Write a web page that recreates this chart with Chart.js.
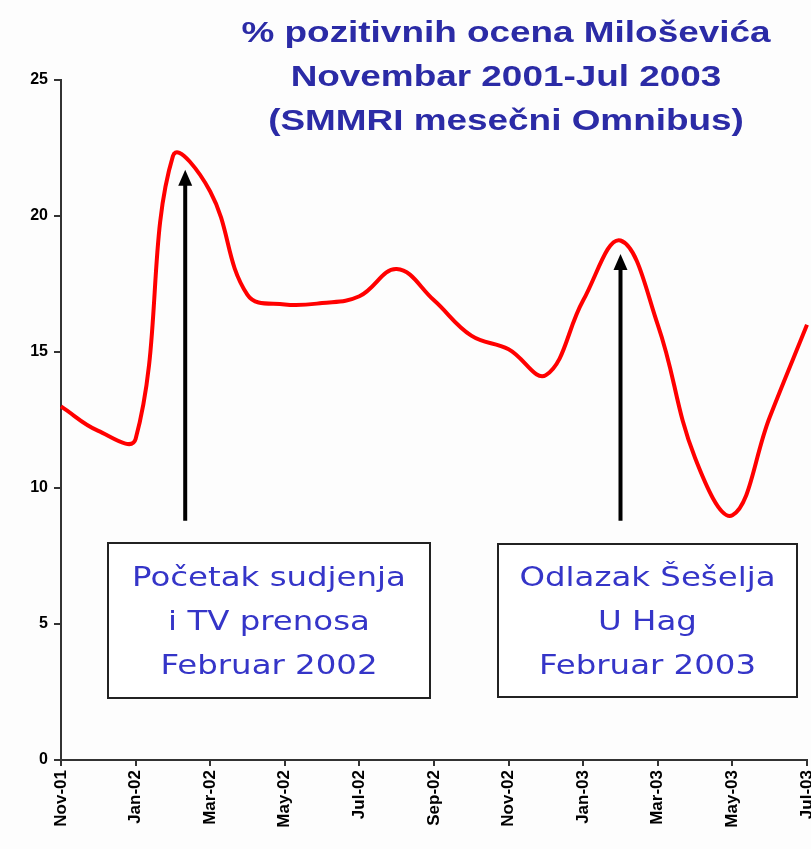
<!DOCTYPE html>
<html lang="sr">
<head>
    <meta charset="UTF-8">
    <title>% pozitivnih ocena Miloševića</title>
    <script src="https://cdn.jsdelivr.net/npm/chart.js"></script>
    <style>
        html, body { margin: 0; padding: 0; background: #fdfdfd; }
        #wrap { width: 811px; height: 849px; }
    </style>
</head>
<body>
    <div id="wrap"><canvas id="ocene"></canvas></div>

    <script>
        // mesečni podaci, Nov-01 .. Jul-03
        var meseci = ['Nov-01', 'Dec-01', 'Jan-02', 'Feb-02', 'Mar-02', 'Apr-02', 'May-02',
                      'Jun-02', 'Jul-02', 'Aug-02', 'Sep-02', 'Oct-02', 'Nov-02', 'Dec-02',
                      'Jan-03', 'Feb-03', 'Mar-03', 'Apr-03', 'May-03', 'Jun-03', 'Jul-03'];
        var pozitivne = [13.0, 12.1, 11.8, 22.2, 20.9, 17.1, 16.75,
                         16.8, 17.05, 18.05, 16.9, 15.6, 15.1, 14.15,
                         16.9, 19.1, 16.0, 11.1, 9.0, 12.6, 16.0];
        var yTicks = [0, 5, 10, 15, 20, 25];

        var naslov = ['% pozitivnih ocena Miloševića', 'Novembar 2001-Jul 2003', '(SMMRI mesečni Omnibus)'];
        var dogadjaji = [
            { linije: ['Početak sudjenja', 'i TV prenosa', 'Februar 2002'], strelaX: 3.33, vrh: 21.7 },
            { linije: ['Odlazak Šešelja', 'U Hag', 'Februar 2003'], strelaX: 15.0, vrh: 18.6 }
        ];

        // tekst razvučen po širini, kao u originalu
        function razvuceno(ctx, t, cx, cy, sx) {
            ctx.save();
            ctx.translate(cx, cy);
            ctx.scale(sx, 1);
            ctx.fillText(t, 0, 0);
            ctx.restore();
        }

        // naslov, strelice i okviri se crtaju preko grafika
        var ukrasi = {
            id: 'ukrasi',
            afterDraw: function (chart) {
                var ctx = chart.ctx;
                var x = chart.scales.x, y = chart.scales.y;
                ctx.save();

                ctx.fillStyle = '#2b2ba6';
                ctx.font = 'bold 30px "Liberation Sans", Arial, sans-serif';
                ctx.textAlign = 'center';
                ctx.textBaseline = 'middle';
                naslov.forEach(function (t, i) {
                    razvuceno(ctx, t, 506, 34 + i * 44, 1.23);
                });

                // strelice
                dogadjaji.forEach(function (d) {
                    var px = x.getPixelForValue(d.strelaX);
                    var top = y.getPixelForValue(d.vrh);
                    var bot = y.getPixelForValue(8.8);
                    ctx.strokeStyle = '#000';
                    ctx.lineWidth = 4;
                    ctx.beginPath();
                    ctx.moveTo(px, bot);
                    ctx.lineTo(px, top + 12);
                    ctx.stroke();
                    ctx.fillStyle = '#000';
                    ctx.beginPath();
                    ctx.moveTo(px, top);
                    ctx.lineTo(px - 7, top + 16);
                    ctx.lineTo(px + 7, top + 16);
                    ctx.closePath();
                    ctx.fill();
                });

                // okviri sa tekstom
                var okviri = [[108, 543, 430, 698], [498, 544, 797, 697]];
                dogadjaji.forEach(function (d, i) {
                    var b = okviri[i];
                    ctx.fillStyle = '#ffffff';
                    ctx.fillRect(b[0], b[1], b[2] - b[0], b[3] - b[1]);
                    ctx.strokeStyle = '#222';
                    ctx.lineWidth = 2;
                    ctx.strokeRect(b[0], b[1], b[2] - b[0], b[3] - b[1]);
                    ctx.fillStyle = '#3535c8';
                    ctx.font = '27px "DejaVu Sans", Tahoma, sans-serif';
                    ctx.textAlign = 'center';
                    ctx.textBaseline = 'middle';
                    var cx = (b[0] + b[2]) / 2;
                    d.linije.forEach(function (t, j) {
                        razvuceno(ctx, t, cx, 579 + j * 44, 1.2);
                    });
                });
                ctx.restore();
            }
        };

        var ctx = document.getElementById('ocene').getContext('2d');
        new Chart(ctx, {
            type: 'line',
            data: {
                labels: meseci,
                datasets: [{
                    data: pozitivne,
                    borderColor: '#ff0000',
                    borderWidth: 4,
                    pointRadius: 0,
                    tension: 0.4,
                    fill: false
                }]
            },
            options: {
                responsive: true,
                maintainAspectRatio: false,
                animation: false,
                layout: { padding: { top: 80, right: 4, left: 0, bottom: 0 } },
                plugins: {
                    legend: { display: false },
                    tooltip: { enabled: false }
                },
                scales: {
                    x: {
                        offset: false,
                        afterFit: function (s) { s.height = 89; s.paddingRight = 0; s.paddingLeft = 0; },
                        grid: { display: true, drawOnChartArea: false, drawTicks: true, tickLength: 6, color: '#333', lineWidth: 2 },
                        border: { display: true, color: '#333', width: 2 },
                        ticks: {
                            autoSkip: false,
                            minRotation: 90,
                            maxRotation: 90,
                            padding: 4,
                            color: '#000',
                            font: { family: '"Liberation Sans", Arial, sans-serif', size: 17, weight: 'bold' },
                            callback: function (v, i) { return i % 2 === 0 ? meseci[i] : null; }
                        }
                    },
                    y: {
                        min: 0,
                        max: 25,
                        afterFit: function (s) { s.width = 61; },
                        afterBuildTicks: function (s) { s.ticks = yTicks.map(function (v) { return { value: v }; }); },
                        grid: { display: true, drawOnChartArea: false, drawTicks: true, tickLength: 7, color: '#333', lineWidth: 2 },
                        border: { display: true, color: '#333', width: 2 },
                        ticks: {
                            color: '#000',
                            padding: 6,
                            font: { family: '"Liberation Sans", Arial, sans-serif', size: 16, weight: 'bold' }
                        }
                    }
                }
            },
            plugins: [ukrasi]
        });
    </script>
</body>
</html>
